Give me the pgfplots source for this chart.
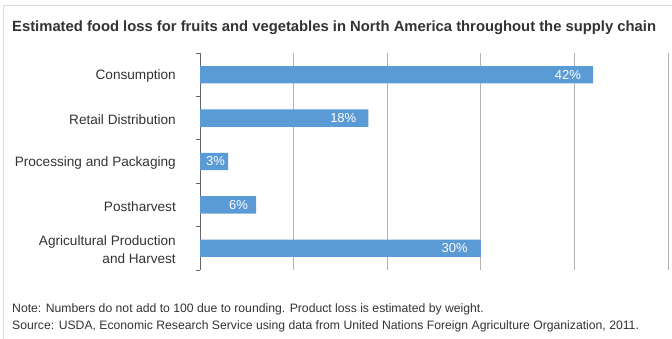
\documentclass[border=0pt]{standalone}
\usepackage{fontspec}
\setmainfont{Liberation Sans}
\usepackage{pgfplots}
\usepackage{pgfplotstable}
\pgfplotsset{compat=1.18}
\definecolor{barblue}{HTML}{5B9BD5}
\definecolor{txt}{HTML}{333333}
\definecolor{gridc}{HTML}{B4B4B4}
\definecolor{framec}{HTML}{DADADA}
\pgfplotstableread{
y x sh
4 42 -12
3 18 -12
2 3 -3
1 6 -8
0 30 -13
}\data
\begin{document}
\begin{tikzpicture}
\path[use as bounding box] (0,0) rectangle (672pt,339pt);
\draw[framec, line width=1pt] (3pt,0) -- (3pt,333pt) -- (672pt,333pt);
\node[anchor=west, text=txt, inner sep=0pt, font=\fontsize{14.8}{17}\selectfont\bfseries] at (12pt,311pt) {Estimated food loss for fruits and vegetables in North America throughout the supply chain};
\begin{axis}[
  at={(200pt,69pt)}, anchor=south west,
  scale only axis, width=468pt, height=217pt,
  xmin=0, xmax=50, ymin=-0.5, ymax=4.5,
  axis lines*=left,
  x axis line style={draw=none},
  y axis line style={draw=gray!80!black, line width=0.8pt},
  xtick={10,20,30,40,50}, xticklabels={},
  xmajorgrids, major grid style={gridc, line width=0.9pt},
  major x tick style={draw=none},
  ytick={0,1,2,3,4},
  yticklabels={{Agricultural Production\\and Harvest},Postharvest,{Processing and Packaging},{Retail Distribution},Consumption},
  major y tick style={draw=none},
  major tick length=0pt,
  minor ytick={-0.5,0.5,1.5,2.5,3.5,4.5},
  minor tick length=4pt,
  minor y tick style={draw=gray!80!black, line width=0.8pt},
  tick align=outside,
  yticklabel style={align=right, anchor=east, text=txt, font=\fontsize{13.6}{17.5}\selectfont, xshift=-24pt, yshift=-1.5pt, inner sep=0pt},
  clip=false,
]
\addplot[xbar, fill=barblue, draw=none, bar width=0.4,
  point meta=explicit,
  visualization depends on={\thisrow{sh} \as \sh},
  nodes near coords={\pgfmathprintnumber[assume math mode=true]{\pgfplotspointmeta}\%},
  nodes near coords style={anchor=east, xshift=\sh pt, text=white, font=\fontsize{13}{15}\selectfont, inner sep=0pt},
] table[x=x, y=y, meta=x] {\data};
\end{axis}
\node[anchor=base west, text=txt, inner sep=0pt, font=\fontsize{12.2}{14}\selectfont] at (12pt,26pt) {Note: Numbers do not add to 100 due to rounding. Product loss is estimated by weight.};
\node[anchor=base west, text=txt, inner sep=0pt, font=\fontsize{12.2}{14}\selectfont] at (12pt,9pt) {Source: USDA, Economic Research Service using data from United Nations Foreign Agriculture Organization, 2011.};
\end{tikzpicture}
\end{document}
